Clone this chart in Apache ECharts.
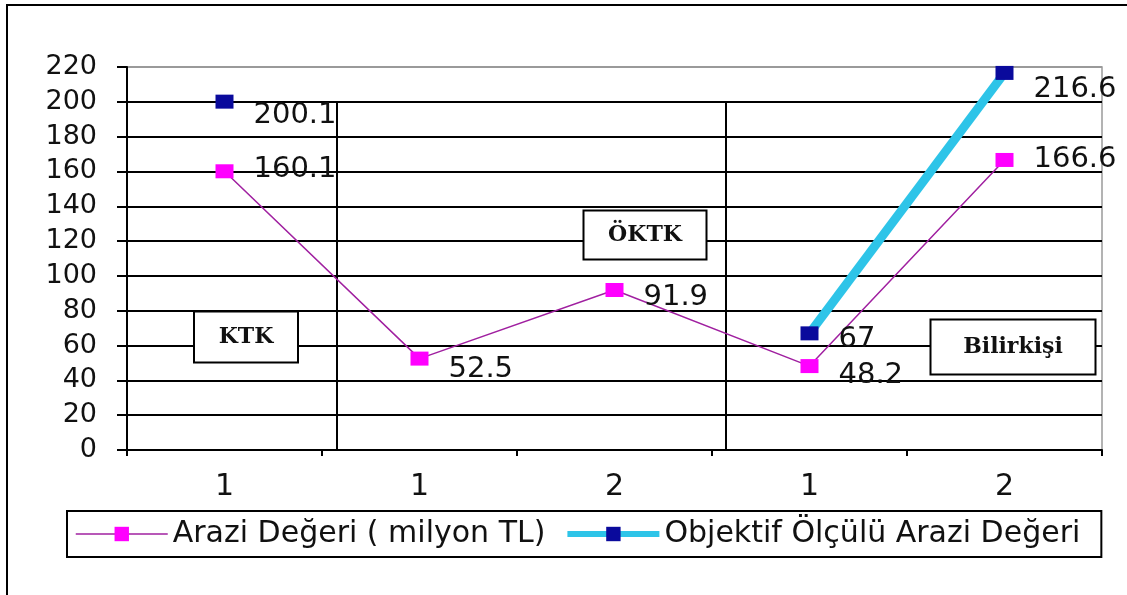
<!DOCTYPE html>
<html>
<head>
<meta charset="utf-8">
<script src="https://cdn.jsdelivr.net/npm/echarts@6/dist/echarts.min.js"></script>
<style>
  html, body { margin: 0; padding: 0; background: #fff; }
  #container { width: 1127px; height: 595px; }
</style>
</head>
<body>
<div id="container"></div>
<script>
// DATA
var categories = ['1', '1', '2', '1', '2'];
var araziDegeri = [160.1, 52.5, 91.9, 48.2, 166.6];
var objektifDeger = [200.1, null, null, 67, 216.6];
var yTicks = [0, 20, 40, 60, 80, 100, 120, 140, 160, 180, 200, 220];
var seriesNames = ['Arazi Değeri ( milyon TL)', 'Objektif Ölçülü Arazi Değeri'];
var groupNames = ['KTK', 'ÖKTK', 'Bilirkişi'];

// label nudges (vertical), like the hand placed excel labels
var shift1 = [-2, 11, 7, 9, 0];
var shift2 = [14, 0, 0, 6, 17];

var dom = document.getElementById("container");
var myChart = echarts.init(dom);

function withLabels(vals, shifts) {
    return vals.map(function (v, i) {
        if (v === null) { return null; }
        return { value: v, label: { offset: [0, shifts[i]] } };
    });
}

var splitColors = yTicks.map(function (t, i) {
    return i === yTicks.length - 1 ? '#9a9a9a' : '#000';
});

var option = {
    animation: false,
    backgroundColor: '#fff',
    grid: {
        left: 127,
        top: 67,
        right: 25,
        bottom: 145,
        show: true,
        borderColor: '#9a9a9a',
        borderWidth: 1.5
    },
    xAxis: {
        type: 'category',
        data: categories,
        boundaryGap: true,
        axisLine: { lineStyle: { color: '#000', width: 2 } },
        axisTick: { show: true, length: 6, lineStyle: { color: '#000', width: 2 } },
        axisLabel: {
            margin: 22,
            color: '#111',
            fontSize: 30,
            fontFamily: 'DejaVu Sans'
        },
        splitLine: { show: false }
    },
    yAxis: {
        type: 'value',
        min: 0,
        max: 220,
        interval: 20,
        axisLine: { show: true, lineStyle: { color: '#000', width: 2 } },
        axisTick: { show: true, length: 10, lineStyle: { color: '#000', width: 2 } },
        axisLabel: {
            margin: 30,
            color: '#111',
            fontSize: 27,
            fontFamily: 'DejaVu Sans'
        },
        splitLine: { show: true, lineStyle: { color: splitColors, width: 2 } }
    },
    legend: {
        left: 67,
        top: 511,
        orient: 'horizontal',
        padding: [8, 21, 8, 8],
        borderColor: '#000',
        borderWidth: 2,
        itemGap: 19,
        itemWidth: 92,
        itemHeight: 18,
        textStyle: {
            fontSize: 30,
            color: '#111',
            fontFamily: 'DejaVu Sans'
        },
        data: [
            { name: seriesNames[0], lineStyle: { width: 1.5 } },
            { name: seriesNames[1], lineStyle: { width: 6 } }
        ]
    },
    series: [
        {
            name: seriesNames[0],
            type: 'line',
            data: withLabels(araziDegeri, shift1),
            symbol: 'rect',
            symbolSize: [18, 14],
            itemStyle: { color: '#ff00ff' },
            lineStyle: { color: '#a020a0', width: 1.5 },
            label: {
                show: true,
                position: 'right',
                distance: 20,
                color: '#111',
                fontSize: 29,
                fontFamily: 'DejaVu Sans'
            },
            z: 3
        },
        {
            name: seriesNames[1],
            type: 'line',
            data: withLabels(objektifDeger, shift2),
            connectNulls: false,
            symbol: 'rect',
            symbolSize: [18, 14],
            itemStyle: { color: '#0a0a9c' },
            lineStyle: { color: '#2ec4e8', width: 9 },
            label: {
                show: true,
                position: 'right',
                distance: 20,
                color: '#111',
                fontSize: 29,
                fontFamily: 'DejaVu Sans'
            },
            z: 4
        }
    ]
};

if (option && typeof option === "object") {
    myChart.setOption(option, true);
}

// dividers between the groups, and the group boxes
var c0 = myChart.convertToPixel({ xAxisIndex: 0 }, 0);
var c1 = myChart.convertToPixel({ xAxisIndex: 0 }, 1);
var c2 = myChart.convertToPixel({ xAxisIndex: 0 }, 2);
var c3 = myChart.convertToPixel({ xAxisIndex: 0 }, 3);
var yTop = myChart.convertToPixel({ yAxisIndex: 0 }, 200);
var yBot = myChart.convertToPixel({ yAxisIndex: 0 }, 0);
var d1 = (c0 + c1) / 2 + 15;
var d2 = (c2 + c3) / 2 + 14;

function box(cx, cy, w, h, txt) {
    return {
        type: 'group',
        z: 50,
        children: [
            {
                type: 'rect',
                shape: { x: cx - w / 2, y: cy - h / 2, width: w, height: h },
                style: { fill: '#fff', stroke: '#000', lineWidth: 2 }
            },
            {
                type: 'text',
                x: cx,
                y: cy,
                style: {
                    text: txt,
                    fill: '#111',
                    font: 'bold 22px "DejaVu Serif"',
                    align: 'center',
                    verticalAlign: 'middle'
                }
            }
        ]
    };
}

myChart.setOption({
    graphic: [
        {
            type: 'rect',
            shape: { x: 7, y: 5, width: 1130, height: 600 },
            style: { fill: null, stroke: '#000', lineWidth: 2 },
            silent: true
        },
        {
            type: 'line',
            shape: { x1: d1, y1: yTop, x2: d1, y2: yBot },
            style: { stroke: '#000', lineWidth: 2 },
            z: 1
        },
        {
            type: 'line',
            shape: { x1: d2, y1: yTop, x2: d2, y2: yBot },
            style: { stroke: '#000', lineWidth: 2 },
            z: 1
        },
        box(246, 337, 104, 51, groupNames[0]),
        box(645, 235, 123, 49, groupNames[1]),
        box(1013, 347, 165, 55, groupNames[2])
    ]
});
</script>
</body>
</html>
